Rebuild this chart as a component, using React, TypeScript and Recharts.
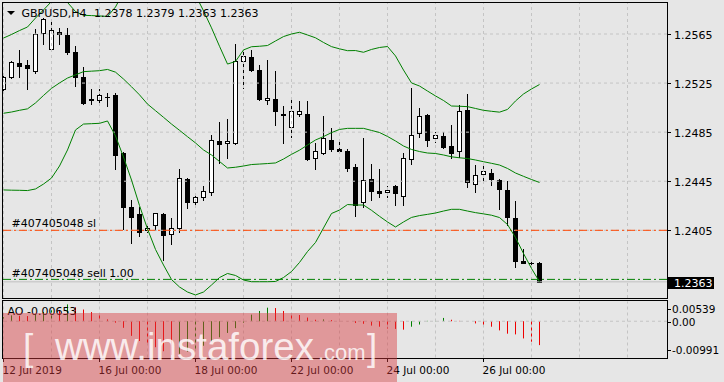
import React from "react";
import { ComposedChart, Bar, Line, XAxis, YAxis, ReferenceLine } from "recharts";

// GBPUSD H4, one entry per bar (oldest first)
const opens = [
  1.2520, 1.2530, 1.2541, 1.2540, 1.2535, 1.2566, 1.2553, 1.2567, 1.2564, 1.2550,
  1.2530, 1.2512, 1.2511, 1.2514, 1.2515, 1.2468, 1.2424, 1.2418, 1.2405, 1.2409,
  1.2418, 1.2402, 1.2407, 1.2447, 1.2428, 1.2432, 1.2436, 1.2478, 1.2476, 1.2476,
  1.2543, 1.2546, 1.2536, 1.2511, 1.2512, 1.2500, 1.2489, 1.2500, 1.2500, 1.2464,
  1.2468, 1.2479, 1.2471, 1.2470, 1.2457, 1.2428, 1.2447, 1.2437, 1.2436, 1.2441,
  1.2433, 1.2463, 1.2484, 1.2499, 1.2480, 1.2482, 1.2474, 1.2470, 1.2503, 1.2443,
  1.2451, 1.2452, 1.2446, 1.2438, 1.2415, 1.2380, 1.2378, 1.2378,
];
const highs = [
  1.2531, 1.2543, 1.2552, 1.2544, 1.2569, 1.2578, 1.2577, 1.2570, 1.2570, 1.2555,
  1.2538, 1.2520, 1.2520, 1.2517, 1.2517, 1.2469, 1.2430, 1.2424, 1.2411, 1.2419,
  1.2419, 1.2415, 1.2455, 1.2448, 1.2435, 1.2441, 1.2483, 1.2493, 1.2496, 1.2557,
  1.2553, 1.2552, 1.2540, 1.2544, 1.2535, 1.2506, 1.2512, 1.2510, 1.2510, 1.2476,
  1.2498, 1.2488, 1.2478, 1.2471, 1.2459, 1.2480, 1.2459, 1.2455, 1.2441, 1.2442,
  1.2468, 1.2521, 1.2505, 1.2500, 1.2485, 1.2485, 1.2491, 1.2507, 1.2516, 1.2458,
  1.2458, 1.2455, 1.2447, 1.2445, 1.2429, 1.2390, 1.2382, 1.2379,
];
const lows = [
  1.2518, 1.2529, 1.2530, 1.2520, 1.2533, 1.2557, 1.2552, 1.2557, 1.2549, 1.2523,
  1.2508, 1.2508, 1.2507, 1.2506, 1.2455, 1.2406, 1.2395, 1.2400, 1.2404, 1.2405,
  1.2381, 1.2394, 1.2404, 1.2423, 1.2424, 1.2430, 1.2434, 1.2460, 1.2464, 1.2475,
  1.2521, 1.2535, 1.2511, 1.2508, 1.2491, 1.2476, 1.2481, 1.2498, 1.2462, 1.2455,
  1.2467, 1.2470, 1.2468, 1.2453, 1.2417, 1.2424, 1.2430, 1.2432, 1.2432, 1.2426,
  1.2426, 1.2459, 1.2481, 1.2474, 1.2477, 1.2472, 1.2464, 1.2465, 1.2440, 1.2436,
  1.2445, 1.2442, 1.2422, 1.2409, 1.2375, 1.2378, 1.2375, 1.2363,
];
const closes = [
  1.2530, 1.2542, 1.2539, 1.2537, 1.2565, 1.2577, 1.2568, 1.2565, 1.2550, 1.2530,
  1.2509, 1.2511, 1.2515, 1.2514, 1.2466, 1.2424, 1.2416, 1.2404, 1.2407, 1.2419,
  1.2401, 1.2407, 1.2448, 1.2428, 1.2432, 1.2437, 1.2479, 1.2475, 1.2478, 1.2543,
  1.2547, 1.2536, 1.2512, 1.2513, 1.2502, 1.2499, 1.2502, 1.2502, 1.2463, 1.2470,
  1.2480, 1.2471, 1.2470, 1.2456, 1.2426, 1.2446, 1.2437, 1.2435, 1.2438, 1.2435,
  1.2464, 1.2483, 1.2498, 1.2479, 1.2483, 1.2473, 1.2468, 1.2502, 1.2444, 1.2450,
  1.2453, 1.2447, 1.2439, 1.2416, 1.2380, 1.2378, 1.2378, 1.2363,
];

// Bollinger bands
const bbUpper = [
  1.25617, 1.25646, 1.25678, 1.25707, 1.2578, 1.25846, 1.25915, 1.25943, 1.25907, 1.25833,
  1.25802, 1.258, 1.25797, 1.25793, 1.2587, 1.25992, 1.2609, 1.26172, 1.26212, 1.26212,
  1.26172, 1.26131, 1.2609, 1.26025, 1.25968, 1.25839, 1.257, 1.2555, 1.25405, 1.25426,
  1.2552, 1.25546, 1.2555, 1.25556, 1.25593, 1.25629, 1.2565, 1.25664, 1.25642, 1.25619,
  1.25581, 1.25547, 1.25529, 1.25514, 1.25515, 1.25501, 1.25524, 1.2554, 1.25548, 1.25471,
  1.25356, 1.25251, 1.25226, 1.25185, 1.25145, 1.25108, 1.25063, 1.25061, 1.25058, 1.25043,
  1.25028, 1.2502, 1.25013, 1.25035, 1.25104, 1.25161, 1.25202, 1.25238,
];
const bbMiddle = [
  1.25004, 1.25014, 1.25028, 1.2504, 1.25088, 1.25149, 1.25207, 1.25251, 1.25291, 1.25317,
  1.25343, 1.25347, 1.25351, 1.25361, 1.25339, 1.25283, 1.2522, 1.25154, 1.25079, 1.25025,
  1.24971, 1.24916, 1.24865, 1.24813, 1.24762, 1.24705, 1.24664, 1.24611, 1.24558, 1.24564,
  1.24574, 1.24586, 1.2459, 1.24594, 1.24599, 1.24631, 1.24669, 1.24703, 1.24745, 1.24786,
  1.24814, 1.24846, 1.24872, 1.24881, 1.24881, 1.24881, 1.24864, 1.24847, 1.24815, 1.24778,
  1.24737, 1.24709, 1.24692, 1.2468, 1.24676, 1.24664, 1.24649, 1.24641, 1.24635, 1.24623,
  1.24609, 1.24596, 1.24582, 1.24554, 1.24517, 1.2449, 1.24464, 1.2444,
];
const bbLower = [
  1.24379, 1.24377, 1.24376, 1.24374, 1.24387, 1.24427, 1.24476, 1.24574, 1.24705, 1.24868,
  1.24916, 1.24919, 1.24922, 1.24941, 1.24819, 1.24647, 1.2446, 1.24252, 1.24061, 1.23894,
  1.23767, 1.23649, 1.23588, 1.23547, 1.23523, 1.23547, 1.23604, 1.23665, 1.23698, 1.23682,
  1.23645, 1.23631, 1.23631, 1.23631, 1.23633, 1.23665, 1.23714, 1.23788, 1.23877, 1.23951,
  1.24069, 1.24187, 1.24215, 1.2426, 1.24256, 1.24256, 1.24213, 1.24164, 1.24118, 1.24077,
  1.24118, 1.24155, 1.2417, 1.2418, 1.24191, 1.24207, 1.24221, 1.24221, 1.24207, 1.24194,
  1.24184, 1.24173, 1.24154, 1.24097, 1.23991, 1.23861, 1.23739, 1.23631,
];

// Awesome Oscillator
const aoValues = [
  0.0011, 0.0016, 0.0015, 0.0014, 0.0019, 0.0025, 0.003, 0.0028, 0.0046, 0.0038,
  0.0032, 0.0025, 0.002, 0.0005, -0.0004, -0.0018, -0.004, -0.0054, -0.0062, -0.0071,
  -0.0082, -0.0092, -0.0089, -0.0083, -0.0076, -0.0067, -0.0056, -0.0044, -0.0032, -0.0019,
  -0.0004, 0.0018, 0.0028, 0.0037, 0.0036, 0.0028, 0.0021, 0.0017, 0.001, 0.0004,
  0.0005, 0.0003, 0.0001, 0.00005, -0.0005, -0.0007, -0.0012, -0.0015, -0.002, -0.0021,
  -0.0023, -0.0015, -0.0009, 0.0001, 0.0004, 0.0009, 0.0004, 0.0001, -0.00002, -0.0006,
  -0.0013, -0.0015, -0.0025, -0.0034, -0.0036, -0.0047, -0.0056, -0.00653,
];

const symbol = "GBPUSD";
const timeframe = "H4";
const orderId = "407405048";
const orderLots = "1.00";
const slPrice = 1.2405;
const sellPrice = 1.2365;

const priceTicks = [1.2565, 1.2525, 1.2485, 1.2445, 1.2405];
const aoTicks = [0.00539, 0, -0.00991];
const timeLabels = ["12 Jul 2019", "16 Jul 00:00", "18 Jul 00:00", "22 Jul 00:00", "24 Jul 00:00", "26 Jul 00:00"];
const timeLabelBars = [0, 12, 24, 36, 48, 60];
const gridBars = [0, 6, 12, 18, 24, 30, 36, 42, 48, 54, 60, 66, 72, 78];

const X_DOMAIN: [number, number] = [-0.1875, 82.9375];
const PRICE_DOMAIN: [number, number] = [1.234983, 1.259107];
const AO_DOMAIN: [number, number] = [aoTicks[2], aoTicks[0]];

const lastClose = closes[closes.length - 1];
const lastAo = aoValues[aoValues.length - 1];

const rows = opens.map((o, i) => ({
  i,
  open: o,
  high: highs[i],
  low: lows[i],
  close: closes[i],
  upper: bbUpper[i],
  middle: bbMiddle[i],
  lower: bbLower[i],
  ao: aoValues[i],
  aoUp: i === 0 || aoValues[i] > aoValues[i - 1],
}));

const BG = "#e6e6e6";
const GRID = "#c4c4c4";
const FONT = "'DejaVu Sans', sans-serif";
const MARK_FONT = "'Liberation Sans', Arial, sans-serif";

function CandleShape(props: any) {
  const { x, y, width, height, payload } = props;
  if (x == null || y == null || !payload) return null;
  const top = Math.min(y, y + height);
  const bottom = Math.max(y, y + height);
  const span = payload.high - payload.low;
  const py = (v: number) => (span > 0 ? top + ((payload.high - v) / span) * (bottom - top) : top);
  const cx = Math.floor(x + width / 2) + 0.5;
  const yo = py(payload.open);
  const yc = py(payload.close);
  const bTop = Math.round(Math.min(yo, yc));
  const bBot = Math.round(Math.max(yo, yc));
  const bull = payload.close > payload.open;
  return (
    <g>
      <line x1={cx} x2={cx} y1={Math.round(top)} y2={Math.round(bottom) + 1} stroke="#000" strokeWidth={1} />
      {bBot - bTop < 1 ? (
        <line x1={cx - 2.5} x2={cx + 2.5} y1={bTop + 0.5} y2={bTop + 0.5} stroke="#000" strokeWidth={1} />
      ) : bull ? (
        <rect x={cx - 2} y={bTop + 0.5} width={4} height={bBot - bTop} fill="#fff" stroke="#000" strokeWidth={1} />
      ) : (
        <rect x={cx - 2.5} y={bTop} width={5} height={bBot - bTop + 1} fill="#000" />
      )}
    </g>
  );
}

function AoShape(props: any) {
  const { x, y, width, height, payload } = props;
  if (x == null || y == null || !payload) return null;
  const cx = Math.floor(x + width / 2) + 0.5;
  const top = Math.min(y, y + height);
  const bottom = Math.max(y, y + height);
  return (
    <line x1={cx} x2={cx} y1={top} y2={bottom} stroke={payload.aoUp ? "#008000" : "#ee0000"} strokeWidth={1} />
  );
}

function renderPriceTick(props: any) {
  const { y, payload } = props;
  const v = payload.value;
  const yy = Math.round(y);
  if (v === lastClose) {
    return (
      <g>
        <rect x={668} y={yy - 5} width={46} height={12} fill="#000" />
        <text x={674} y={yy + 5} fill="#fff" fontSize={11} fontFamily={FONT}>
          {v.toFixed(4)}
        </text>
      </g>
    );
  }
  return (
    <g>
      <line x1={668} x2={671} y1={yy + 0.5} y2={yy + 0.5} stroke="#000" strokeWidth={1} />
      <text x={674} y={yy + 4.5} fill="#000" fontSize={11} fontFamily={FONT}>
        {v.toFixed(4)}
      </text>
    </g>
  );
}

function renderAoTick(props: any) {
  const { y, payload } = props;
  const v = payload.value;
  // MT4 keeps the max/min labels inside the sub-window
  let base = y + 4.5;
  if (v === aoTicks[0]) base = y + 11.8;
  if (v === aoTicks[2]) base = y - 3.2;
  const mark = Math.round(base - 4) + 0.5;
  return (
    <g>
      <line x1={668} x2={671} y1={mark} y2={mark} stroke="#000" strokeWidth={1} />
      <text x={672} y={base} fill="#000" fontSize={10.5} fontFamily={FONT}>
        {v === 0 ? "0.00" : v.toFixed(5)}
      </text>
    </g>
  );
}

function renderTimeTick(props: any) {
  const { x, payload } = props;
  const idx = timeLabelBars.indexOf(payload.value);
  if (idx < 0) return null;
  const tx = Math.floor(x) + 0.5;
  return (
    <g>
      <line x1={tx} x2={tx} y1={58} y2={62} stroke="#000" strokeWidth={1} />
      <text x={tx - 1} y={73.5} fill="#000" fontSize={10.5} fontFamily={FONT}>
        {timeLabels[idx]}
      </text>
    </g>
  );
}

export default function App() {
  const dashDot = "8 3 2 3";
  return (
    <div style={{ position: "absolute", left: 0, top: 0, width: 724, height: 382, background: BG, overflow: "hidden" }}>
      <div style={{ position: "absolute", left: 0, top: 0 }}>
        <ComposedChart width={724} height={300} data={rows} margin={{ top: 2, right: 0, bottom: 2, left: 2 }}>
          <XAxis dataKey="i" type="number" domain={X_DOMAIN} ticks={gridBars} hide allowDataOverflow />
          <YAxis
            orientation="right"
            width={57}
            type="number"
            domain={PRICE_DOMAIN}
            allowDataOverflow
            ticks={[...priceTicks, lastClose]}
            interval={0}
            axisLine={false}
            tickLine={false}
            tick={renderPriceTick}
          />
          {gridBars.map((k) => (
            <ReferenceLine key={"gx" + k} x={k} stroke={GRID} strokeDasharray="3 3" />
          ))}
          {priceTicks.map((p) => (
            <ReferenceLine key={"gy" + p} y={p} stroke={GRID} strokeDasharray="3 3" />
          ))}
          <ReferenceLine y={lastClose} stroke="#c0c0c0" />
          <ReferenceLine y={slPrice} stroke="#ff4500" strokeDasharray={dashDot} />
          <ReferenceLine y={sellPrice} stroke="#008000" strokeDasharray={dashDot} />
          <Bar dataKey={(d: any) => [d.low, d.high]} shape={CandleShape} barSize={5} isAnimationActive={false} />
          <Line type="linear" dataKey="upper" stroke="#008000" strokeWidth={1} dot={false} activeDot={false} isAnimationActive={false} />
          <Line type="linear" dataKey="middle" stroke="#008000" strokeWidth={1} dot={false} activeDot={false} isAnimationActive={false} />
          <Line type="linear" dataKey="lower" stroke="#008000" strokeWidth={1} dot={false} activeDot={false} isAnimationActive={false} />
        </ComposedChart>
      </div>
      <div style={{ position: "absolute", left: 0, top: 300 }}>
        <ComposedChart width={724} height={82} data={rows} margin={{ top: 1.5, right: 0, bottom: 0, left: 2 }}>
          <XAxis
            dataKey="i"
            type="number"
            domain={X_DOMAIN}
            allowDataOverflow
            ticks={timeLabelBars}
            interval={0}
            height={24.5}
            axisLine={false}
            tickLine={false}
            tick={renderTimeTick}
          />
          <YAxis
            orientation="right"
            width={57}
            type="number"
            domain={AO_DOMAIN}
            allowDataOverflow
            ticks={aoTicks}
            interval={0}
            axisLine={false}
            tickLine={false}
            tick={renderAoTick}
          />
          {gridBars.map((k) => (
            <ReferenceLine key={"ax" + k} x={k} stroke={GRID} strokeDasharray="3 3" />
          ))}
          <ReferenceLine y={0} stroke={GRID} strokeDasharray="3 3" />
          <Bar dataKey="ao" shape={AoShape} barSize={1} isAnimationActive={false} />
        </ComposedChart>
      </div>
      <svg width={724} height={382} style={{ position: "absolute", left: 0, top: 0, pointerEvents: "none" }}>
        <rect x={2.5} y={2.5} width={665} height={296} fill="none" stroke="#000" strokeWidth={1} />
        <rect x={2.5} y={300.5} width={665} height={58} fill="none" stroke="#000" strokeWidth={1} />
        <polygon points="7,11 15,11 11,15" fill="#000" />
        <text x={21.5} y={16.5} fontSize={11} fontFamily={FONT} fill="#000">
          {symbol + "," + timeframe}
        </text>
        <text x={94} y={16.5} fontSize={11} fontFamily={FONT} fill="#000">
          {[opens, highs, lows, closes].map((a) => a[a.length - 1].toFixed(4)).join(" ")}
        </text>
        <text x={11.5} y={227} fontSize={11} fontFamily={FONT} fill="#000">
          {"#" + orderId + " sl"}
        </text>
        <text x={11.5} y={276.5} fontSize={11} fontFamily={FONT} fill="#000">
          {"#" + orderId + " sell " + orderLots}
        </text>
        <text x={7.5} y={315} fontSize={11} fontFamily={FONT} fill="#000">
          {"AO " + lastAo.toFixed(5)}
        </text>
        <rect x={3} y={313} width={394} height={69} fill="#d9393f" fillOpacity={0.45} />
        <g fill="#fff" fillOpacity={0.82} fontFamily={MARK_FONT}>
          <text x={23} y={360} fontSize={37}>[</text>
          <text x={55} y={360} fontSize={38.5}>www.instaforex</text>
          <text x={318} y={360} fontSize={22}>.com</text>
          <text x={367} y={360} fontSize={37}>]</text>
        </g>
      </svg>
    </div>
  );
}
